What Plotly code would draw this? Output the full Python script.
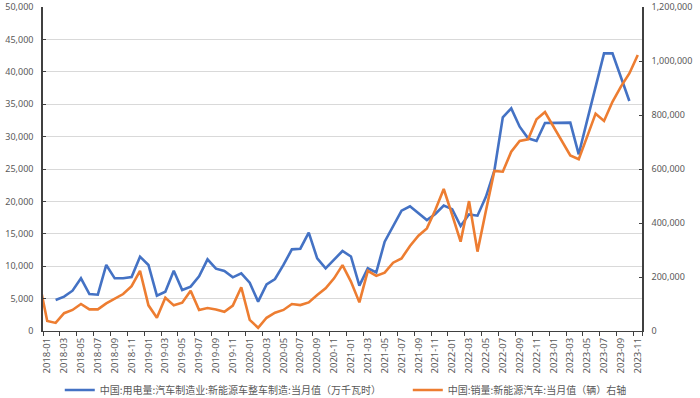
import plotly.graph_objects as go

# Categories: 2017-12 (only partly visible, clipped at the left axis) then 2018-01 .. 2023-11
months = ["2017-12"] + [f"{y}-{m:02d}" for y in range(2018, 2024) for m in range(1, 13)][:71]

# 中国:用电量:汽车制造业:新能源车整车制造:当月值 (万千瓦时) - left axis
power_2017 = [None]
power_2018 = [None, 4780, 5300, 6220, 8130, 5710, 5600, 10190, 8130, 8130, 8330, 11470]
power_2019 = [10190, 5450, 6070, 9310, 6330, 6840, 8450, 11060, 9620, 9260, 8280, 8900]
power_2020 = [7460, 4530, 7200, 8020, 10190, 12600, 12700, 15170, 11210, 9670, 11060, 12350]
power_2021 = [11500, 7000, 9670, 9050, 13780, 16200, 18570, 19250, 18160, 17130, 18060, 19370]
power_2022 = [18800, 16200, 18000, 17800, 20700, 24740, 32980, 34360, 31530, 29740, 29320, 32100]
power_2023 = [None, None, 32150, 27270, 32500, 37700, 42850, 42850, 39100, 35500, None]

# 中国:销量:新能源汽车:当月值 (辆) - right axis
sales_2017 = [190000]
sales_2018 = [37000, 30000, 66000, 78000, 100000, 80000, 80000, 102000, 121000, 137000, 166000, 223000]
sales_2019 = [95000, 49000, 123000, 95000, 105000, 149000, 78000, 85000, 80000, 71000, 94000, 162000]
sales_2020 = [41000, 12000, 49000, 68000, 78000, 100000, 96000, 106000, 133000, 158000, 195000, 244000]
sales_2021 = [183000, 106000, 223000, 204000, 216000, 253000, 269000, 315000, 353000, 380000, 448000, 526000]
sales_2022 = [430000, 331000, 481000, 294000, 445000, 593000, 590000, 664000, 704000, 710000, 784000, 811000]
sales_2023 = [None, None, 650000, 636000, 720000, 805000, 778000, 849000, 905000, 954000, 1022000]

power = power_2017 + power_2018 + power_2019 + power_2020 + power_2021 + power_2022 + power_2023
sales = sales_2017 + sales_2018 + sales_2019 + sales_2020 + sales_2021 + sales_2022 + sales_2023

name_power = "中国:用电量:汽车制造业:新能源车整车制造:当月值（万千瓦时）"
name_sales = "中国:销量:新能源汽车:当月值（辆）右轴"

tick_labels = months[1::2]

BLUE = "#4472C4"
ORANGE = "#ED7D31"
TXT = "#595959"
AX = "#404040"
font_num = "Noto Sans, Noto Sans CJK SC, sans-serif"
font_cjk = "Noto Sans CJK SC, Noto Sans, sans-serif"

fig = go.Figure()
fig.add_trace(go.Scatter(x=months, y=power, name=name_power, mode="lines",
                         line=dict(color=BLUE, width=2.6), connectgaps=True,
                         yaxis="y", legend="legend"))
fig.add_trace(go.Scatter(x=months, y=sales, name=name_sales, mode="lines",
                         line=dict(color=ORANGE, width=2.6), connectgaps=True,
                         yaxis="y2", legend="legend2"))

legend_common = dict(orientation="h", yanchor="middle", y=-0.182, xanchor="left",
                     font=dict(family=font_cjk, size=10, color=TXT),
                     bgcolor="rgba(0,0,0,0)")

fig.update_layout(
    width=700, height=398,
    margin=dict(l=43, r=58, t=7, b=67, autoexpand=False),
    plot_bgcolor="white", paper_bgcolor="white",
    showlegend=True,
    legend=dict(x=0.028, **legend_common),
    legend2=dict(x=0.609, **legend_common),
    xaxis=dict(type="category", categoryorder="array", categoryarray=months,
               range=[0.5, 71.5], tickmode="array", tickvals=tick_labels,
               tickangle=-90, tickson="boundaries", ticks="outside", ticklen=4,
               tickcolor=AX, showline=True, linecolor=AX, linewidth=1,
               ticklabelstandoff=2,
               showgrid=False, tickfont=dict(family=font_num, size=9.5, color=TXT)),
    yaxis=dict(range=[0, 50000], dtick=5000, tickformat=",", showgrid=True,
               gridcolor="#D9D9D9", gridwidth=1, zeroline=False, showline=True,
               linecolor=AX, linewidth=1.5, ticks="inside", ticklen=3, tickcolor=AX,
               ticklabelstandoff=6,
               tickfont=dict(family=font_num, size=9, color=TXT)),
    yaxis2=dict(range=[0, 1200000], dtick=200000, tickformat=",", overlaying="y",
                side="right", showgrid=False, zeroline=False, showline=True,
                linecolor=AX, linewidth=1.5, ticks="inside", ticklen=3, tickcolor=AX,
                ticklabelstandoff=6,
                tickfont=dict(family=font_num, size=9, color=TXT)),
)

fig.write_html("out.html", config={"displayModeBar": False},
               post_script="document.body.style.margin='0';document.body.style.overflow='hidden';")
